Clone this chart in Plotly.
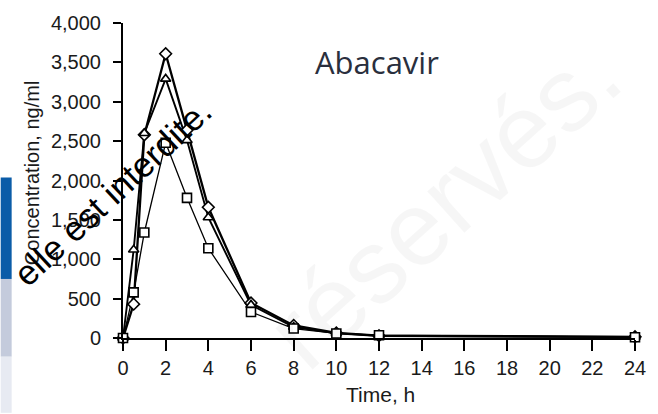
import plotly.graph_objects as go

# Plasma concentration of abacavir after dosing (three subjects)
time_h = [0, 0.5, 1, 2, 3, 4, 6, 8, 10, 12, 24]
conc_diamond = [0, 430, 2580, 3610, 2640, 1660, 445, 160, 65, 30, 15]
conc_triangle = [0, 1120, 2600, 3290, 2510, 1530, 420, 140, 60, 25, 12]
conc_square = [0, 580, 1340, 2480, 1780, 1140, 330, 120, 58, 35, 10]

x_ticks = list(range(0, 25, 2))
y_ticks = list(range(0, 4001, 500))

W, H = 658, 414
L, R, T, B = 123, 20, 18, 76
PW, PH = W - L - R, H - T - B


def px(x):
    return (x - L) / PW


def py(y):
    return (H - B - y) / PH


fig = go.Figure()

series = [
    (conc_diamond, "diamond", 9, 2.3),
    (conc_triangle, "triangle-up", 9, 1.9),
    (conc_square, "square", 9, 1.3),
]
for vals, sym, size, lw in series:
    fig.add_trace(go.Scatter(
        x=time_h, y=vals, mode="lines",
        line=dict(color="black", width=lw),
        cliponaxis=False, showlegend=False,
    ))
# open (white-filled) markers drawn over all the lines
for vals, sym, size, lw in series:
    fig.add_trace(go.Scatter(
        x=time_h, y=vals, mode="markers",
        marker=dict(symbol=sym, size=size, color="white",
                    line=dict(color="black", width=1.6)),
        cliponaxis=False, showlegend=False,
    ))

tick_font = dict(family="Liberation Sans, Arial, sans-serif", color="#1a1a1a")

fig.update_xaxes(
    range=[0, 24], tickvals=x_ticks, showline=True, linecolor="black",
    linewidth=2, ticks="outside", ticklen=11, tickwidth=2, tickcolor="black",
    showgrid=False, zeroline=False, tickfont=dict(size=20, **tick_font),
    ticklabelstandoff=0,
)
fig.update_yaxes(
    range=[0, 4000], tickvals=y_ticks, tickformat=",", showline=True,
    linecolor="black", linewidth=2, ticks="outside", ticklen=8, tickwidth=2,
    tickcolor="black", showgrid=False, zeroline=False,
    tickfont=dict(size=20, **tick_font), ticklabelstandoff=8,
)

shapes = [
    dict(type="rect", xref="paper", yref="paper", x0=px(0), x1=px(11),
         y0=py(278), y1=py(175), fillcolor="#0b5ca8", line_width=0, layer="below"),
    dict(type="rect", xref="paper", yref="paper", x0=px(0), x1=px(11),
         y0=py(357), y1=py(278), fillcolor="#c4cbdc", line_width=0, layer="below"),
    dict(type="rect", xref="paper", yref="paper", x0=px(0), x1=px(11),
         y0=py(414), y1=py(357), fillcolor="#e7eaf2", line_width=0, layer="below"),
]

annotations = [
    dict(text="réservés.", x=px(445), y=py(200), xref="paper", yref="paper",
         showarrow=False, textangle=-42, xanchor="center", yanchor="middle",
         font=dict(family="Liberation Sans, Arial, sans-serif", size=105,
                   color="rgba(0,0,0,0.035)")),
    dict(text="Abacavir", x=px(378), y=py(58), xref="paper", yref="paper",
         showarrow=False, xanchor="center", yanchor="middle",
         font=dict(family="Open Sans, sans-serif", size=31, color="#2a2f3d")),
    dict(text="Concentration, ng/ml", x=px(31), y=py(170), xref="paper",
         yref="paper", showarrow=False, textangle=-90, xanchor="center",
         yanchor="middle", font=dict(size=20, **tick_font)),
    dict(text="Time, h", x=px(382), y=py(395), xref="paper", yref="paper",
         showarrow=False, xanchor="center", yanchor="middle",
         font=dict(size=21, **tick_font)),
    dict(text="elle est interdite.", x=px(112), y=py(190), xref="paper",
         yref="paper", showarrow=False, textangle=-43, xanchor="center",
         yanchor="middle",
         font=dict(family="Liberation Sans, Arial, sans-serif", size=35,
                   color="black")),
]

fig.update_layout(
    width=W, height=H, margin=dict(l=L, r=R, t=T, b=B),
    paper_bgcolor="white", plot_bgcolor="white",
    shapes=shapes, annotations=annotations,
)

fig.write_html("out.html")
